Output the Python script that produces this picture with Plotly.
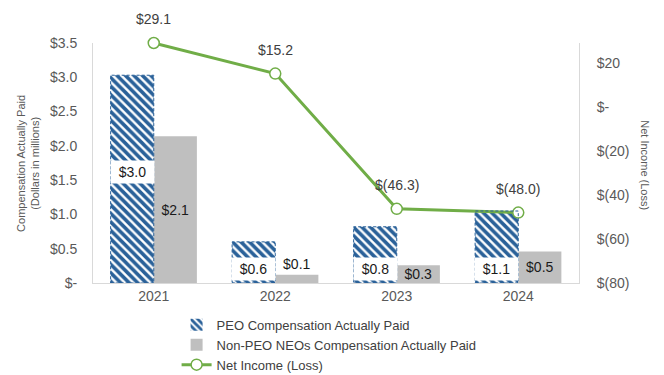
import plotly.graph_objects as go

years = ["2021", "2022", "2023", "2024"]
peo_cap = [3.03, 0.60, 0.82, 1.05]
neo_cap = [2.14, 0.12, 0.26, 0.46]
net_income = [29.1, 15.2, -46.3, -48.0]

left_tickvals = [0, 0.5, 1.0, 1.5, 2.0, 2.5, 3.0, 3.5]
left_ticktext = ["$-", "$0.5", "$1.0", "$1.5", "$2.0", "$2.5", "$3.0", "$3.5"]
right_tickvals = [20, 0, -20, -40, -60, -80]
right_ticktext = ["$20", "$-", "$(20)", "$(40)", "$(60)", "$(80)"]

BLUE = "#2A6199"
GRAY = "#BFBFBF"
GREEN = "#70AD47"
TXT = "#404040"
TICK = "#595959"
FONT = "Liberation Sans, Arial, sans-serif"

xpos = list(range(len(years)))


def money(v):
    s = f"{abs(v):.1f}"
    return f"$({s})" if v < 0 else f"${s}"


fig = go.Figure()
fig.add_trace(go.Bar(
    x=xpos, y=peo_cap, name="PEO Compensation Actually Paid",
    marker=dict(color="white", line=dict(width=0),
                pattern=dict(shape="\\", fgcolor=BLUE, bgcolor="white",
                             size=6, solidity=0.6, fgopacity=1)),
))
fig.add_trace(go.Bar(
    x=xpos, y=neo_cap, name="Non-PEO NEOs Compensation Actually Paid",
    marker=dict(color=GRAY, line=dict(width=0)),
    text=[money(v) for v in neo_cap],
    textposition=["outside" if v < 0.2 else "inside" for v in neo_cap],
    insidetextanchor="middle", constraintext="none",
    textfont=dict(size=14, color="#1a1a1a", family=FONT),
    outsidetextfont=dict(size=14, color="#1a1a1a", family=FONT),
    cliponaxis=False,
))
fig.add_trace(go.Scatter(
    x=xpos, y=net_income, name="Net Income (Loss)", yaxis="y2",
    mode="lines+markers",
    line=dict(color=GREEN, width=3),
    marker=dict(symbol="circle", size=11, color="white",
                line=dict(color=GREEN, width=1.5)),
    cliponaxis=False,
))

bw = 0.355
shapes = []
annotations = []
for i, v in zip(xpos, peo_cap):
    shapes.append(dict(type="rect", xref="x", yref="y",
                       x0=i - bw, x1=i, y0=0, y1=v,
                       line=dict(color=BLUE, width=1, dash="3px,2px"),
                       fillcolor="rgba(0,0,0,0)", layer="above"))
    ylab = v / 2 + 0.1 if v > 2 else 0.2
    annotations.append(dict(x=i - bw / 2, y=ylab, xref="x", yref="y",
                            text=money(v), showarrow=False,
                            bgcolor="white", width=41, height=20,
                            font=dict(size=14, color="#1a1a1a", family=FONT)))

for i, v in zip(xpos, net_income):
    annotations.append(dict(x=i, y=v, xref="x", yref="y2", text=money(v),
                            showarrow=False, yshift=24,
                            font=dict(size=14, color=TXT, family=FONT)))

annotations.append(dict(x=-0.134, y=0.5, xref="paper", yref="paper",
                        xanchor="center", yanchor="middle",
                        text="Compensation Actually Paid<br>(Dollars in millions)",
                        textangle=-90, showarrow=False,
                        font=dict(size=11, color=TICK, family=FONT)))
annotations.append(dict(x=1.134, y=0.49, xref="paper", yref="paper",
                        xanchor="center", yanchor="middle",
                        text="Net Income (Loss)", textangle=90, showarrow=False,
                        font=dict(size=11, color=TICK, family=FONT)))

fig.update_layout(
    width=664, height=375,
    margin=dict(l=93, r=85, t=43, b=92, autoexpand=False),
    paper_bgcolor="white", plot_bgcolor="white",
    font=dict(family=FONT, size=14, color=TICK),
    barmode="group", bargap=0.29, bargroupgap=0,
    showlegend=True,
    legend=dict(x=0.172, y=-0.112, xanchor="left", yanchor="top",
                orientation="v", tracegroupgap=0,
                font=dict(size=13, color=TXT, family=FONT),
                bgcolor="rgba(0,0,0,0)"),
    xaxis=dict(range=[-0.5, len(years) - 0.5], tickvals=xpos, ticktext=years,
               showline=True, linecolor="#D9D9D9", zeroline=False,
               ticks="", showgrid=False, automargin=False,
               tickfont=dict(size=14, color=TICK)),
    yaxis=dict(range=[0, 3.5], tickvals=left_tickvals, ticktext=left_ticktext,
               showline=True, linecolor="#D9D9D9", showgrid=False,
               zeroline=False, ticks="", ticklabelstandoff=12, automargin=False,
               tickfont=dict(size=14, color=TICK)),
    yaxis2=dict(range=[-80, 29.1], overlaying="y", side="right",
                tickvals=right_tickvals, ticktext=right_ticktext,
                showline=True, linecolor="#D9D9D9", showgrid=False,
                zeroline=False, ticks="", ticklabelstandoff=14, automargin=False,
                tickfont=dict(size=14, color=TICK)),
    shapes=shapes,
    annotations=annotations,
)

fig.write_html("out.html", config={"displayModeBar": False},
               post_script="document.body.style.margin='0';"
                           "document.body.style.padding='0';")
